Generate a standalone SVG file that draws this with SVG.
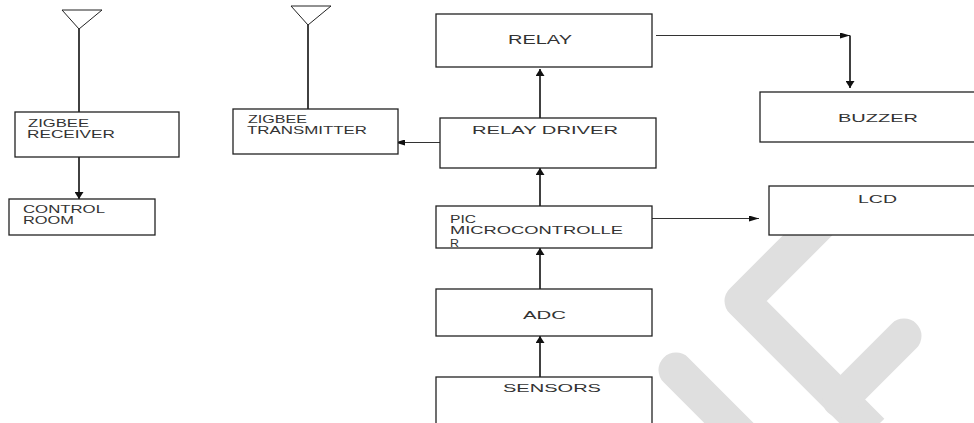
<svg xmlns="http://www.w3.org/2000/svg" width="974" height="423" viewBox="0 0 974 423">
<style>
.box{fill:#fff;stroke:#222;stroke-width:1.3}
.t{font-family:"Liberation Sans",Arial,sans-serif;fill:#333;font-size:11.5px}
.s{font-size:10.5px}
.v{stroke:#111;stroke-width:1.6;fill:none}
.h{stroke:#333;stroke-width:1;fill:none}
.ant{fill:none;stroke:#222;stroke-width:1}
.wm{stroke:#dfdfdf;stroke-width:35;fill:none}
</style>
<defs>
<marker id="av" viewBox="0 0 7 9" refX="7" refY="4.5" markerWidth="7" markerHeight="9" markerUnits="userSpaceOnUse" orient="auto"><path d="M0,0 L7,4.5 L0,9 z" fill="#111"/></marker>
<marker id="ah" viewBox="0 0 10 6" refX="10" refY="3" markerWidth="10" markerHeight="6" markerUnits="userSpaceOnUse" orient="auto"><path d="M0,0 L10,3 L0,6 z" fill="#111"/></marker>
</defs>
<rect width="974" height="423" fill="#fff"/>
<g id="watermark">
<path class="wm" d="M832,211 L742,301 L872,431" stroke-linejoin="round"/>
<path class="wm" d="M676,370 L740,434" stroke-linecap="round"/>
<path class="wm" d="M904,336 L840,400" stroke-linecap="round"/>
</g>
<g id="connectors">
<polygon class="ant" points="62,10 102,10 79,29"/>
<line class="v" x1="79" y1="29" x2="79" y2="112"/>
<polygon class="ant" points="291,6 331,6 308,25"/>
<line class="v" x1="308" y1="25" x2="308" y2="109"/>
<line class="v" x1="79" y1="157" x2="79" y2="199" marker-end="url(#av)"/>
<line class="h" x1="440" y1="142.5" x2="395" y2="142.5" marker-end="url(#ah)"/>
<line class="v" x1="540" y1="118" x2="540" y2="69" marker-end="url(#av)"/>
<polyline class="h" points="656,35.5 850,35.5" marker-end="url(#ah)"/>
<line class="v" x1="850" y1="35.5" x2="850" y2="88" marker-end="url(#av)"/>
<line class="v" x1="540" y1="206" x2="540" y2="168" marker-end="url(#av)"/>
<line class="h" x1="652" y1="218.5" x2="759" y2="218.5" marker-end="url(#ah)"/>
<line class="v" x1="540" y1="289" x2="540" y2="248" marker-end="url(#av)"/>
<line class="v" x1="540" y1="377" x2="540" y2="336" marker-end="url(#av)"/>
</g>
<g id="zigbee-receiver">
<rect class="box" x="15" y="112" width="164" height="45"/>
<text class="t s" x="28" y="127" textLength="61" lengthAdjust="spacingAndGlyphs">ZIGBEE</text>
<text class="t s" x="27" y="138" textLength="88" lengthAdjust="spacingAndGlyphs">RECEIVER</text>
</g>
<g id="control-room">
<rect class="box" x="9" y="199" width="146" height="36"/>
<text class="t s" x="23" y="213" textLength="82" lengthAdjust="spacingAndGlyphs">CONTROL</text>
<text class="t s" x="23" y="223.5" textLength="51" lengthAdjust="spacingAndGlyphs">ROOM</text>
</g>
<g id="zigbee-transmitter">
<rect class="box" x="233" y="109" width="165" height="45"/>
<text class="t s" x="248" y="123" textLength="59" lengthAdjust="spacingAndGlyphs">ZIGBEE</text>
<text class="t s" x="247" y="134" textLength="120" lengthAdjust="spacingAndGlyphs">TRANSMITTER</text>
</g>
<g id="relay">
<rect class="box" x="436" y="14" width="216" height="53"/>
<text class="t" x="508" y="44" textLength="64" lengthAdjust="spacingAndGlyphs" style="font-size:12px">RELAY</text>
</g>
<g id="relay-driver">
<rect class="box" x="440" y="118" width="216" height="50"/>
<text class="t" x="472" y="133.5" textLength="146" lengthAdjust="spacingAndGlyphs">RELAY DRIVER</text>
</g>
<g id="buzzer">
<rect class="box" x="760" y="92" width="230" height="50"/>
<text class="t" x="838" y="121.5" textLength="80" lengthAdjust="spacingAndGlyphs">BUZZER</text>
</g>
<g id="pic">
<rect class="box" x="436" y="206" width="216" height="42"/>
<text class="t s" x="450" y="222.5" textLength="26" lengthAdjust="spacingAndGlyphs">PIC</text>
<text class="t s" x="450" y="234" textLength="173" lengthAdjust="spacingAndGlyphs">MICROCONTROLLE</text>
<text class="t s" x="450" y="246.5" textLength="9" lengthAdjust="spacingAndGlyphs">R</text>
</g>
<g id="lcd">
<rect class="box" x="769" y="186" width="220" height="49"/>
<text class="t" x="858" y="202.5" textLength="39" lengthAdjust="spacingAndGlyphs">LCD</text>
</g>
<g id="adc">
<rect class="box" x="436" y="289" width="216" height="47"/>
<text class="t" x="523" y="318.5" textLength="43" lengthAdjust="spacingAndGlyphs">ADC</text>
</g>
<g id="sensors">
<rect class="box" x="436" y="377" width="216" height="60"/>
<text class="t" x="503" y="391.5" textLength="98" lengthAdjust="spacingAndGlyphs">SENSORS</text>
</g>
</svg>
